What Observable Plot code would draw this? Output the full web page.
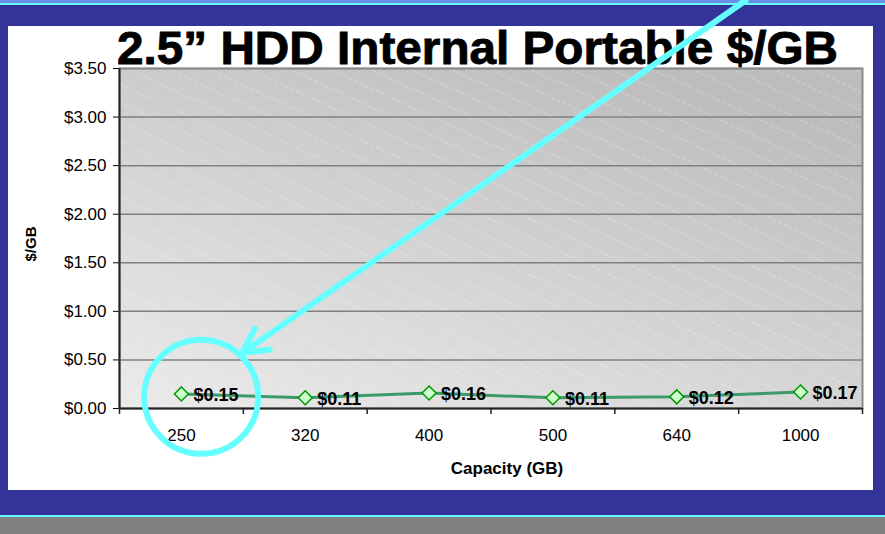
<!DOCTYPE html>
<html>
<head>
<meta charset="utf-8">
<script src="https://cdn.jsdelivr.net/npm/d3@7"></script>
<script src="https://cdn.jsdelivr.net/npm/@observablehq/plot@0.6"></script>
<style>
  html, body { margin: 0; padding: 0; background: #333399; }
  #page { position: relative; width: 885px; height: 534px; overflow: hidden; background: #333399; font-family: "Liberation Sans", Arial, sans-serif; }
  .band { position: absolute; left: 0; width: 885px; }
  #panel { position: absolute; left: 8px; top: 26px; width: 865px; height: 464px; background: #ffffff; }
  #title, #chart svg { position: absolute; left: 0; top: 0; }
</style>
</head>
<body>
<div id="page">
  <div class="band" style="top:0;height:3px;background:#6b8fe6"></div>
  <div class="band" style="top:3px;height:2px;background:#66ffff"></div>
  <div id="panel"></div>
  <div class="band" style="top:515px;height:2px;background:#66ffff"></div>
  <div class="band" style="top:517px;height:17px;background:#808080"></div>
  <svg id="title" width="885" height="534">
    <text x="117" y="64" font-family="Liberation Sans, Arial, sans-serif" font-weight="bold" font-size="47" textLength="721" lengthAdjust="spacingAndGlyphs" fill="#000" stroke="#000" stroke-width="0.9">2.5” HDD Internal Portable $/GB</text>
  </svg>
  <div id="chart"></div>
</div>
<script>
// ---- data ----
const capacities = ["250", "320", "400", "500", "640", "1000"];
const pricePerGB = [0.15, 0.11, 0.16, 0.11, 0.12, 0.17];
const yTicks = [0, 0.5, 1.0, 1.5, 2.0, 2.5, 3.0, 3.5];
const xTitle = "Capacity (GB)";
const yTitle = "$/GB";
// annotation (in data units): arrow pointing at the 250 GB point, and a ring around it
const arrowNote = [{x1: 4.555, y1: 4.2, x2: 0.49, y2: 0.57}];
const ringNote = [{x: 0.16, y: 0.12}];

const rows = capacities.map((c, i) => ({i, capacity: c, price: pricePerGB[i]}));
const money = d3.format("$.2f");
const boundaries = d3.range(capacities.length + 1).map(k => k - 0.5);

const chart = Plot.plot({
  width: 885,
  height: 534,
  marginTop: 68,
  marginRight: 23,
  marginBottom: 126,
  marginLeft: 119,
  style: {background: "transparent", fontFamily: "Liberation Sans, Arial, sans-serif", fontSize: "17px", color: "#000", overflow: "visible"},
  x: {domain: [-0.5, capacities.length - 0.5], ticks: d3.range(capacities.length), tickFormat: i => capacities[i], tickSize: 0, tickPadding: 20, label: null},
  y: {domain: [0, 3.5], ticks: yTicks, tickFormat: money, tickSize: 6, tickPadding: 7, label: null},
  marks: [
    Plot.frame({fill: "url(#plotBg)"}),
    Plot.frame({fill: "url(#plotHatch)"}),
    Plot.ruleY(yTicks.filter(v => v > 0), {stroke: "#808080", strokeWidth: 1.5}),
    Plot.frame({stroke: "#8a8a8a", strokeWidth: 2}),
    Plot.ruleX([boundaries[0]], {stroke: "#222", strokeWidth: 2}),
    Plot.ruleY([0], {stroke: "#222", strokeWidth: 2}),
    Plot.ruleX(boundaries, {y1: 0, y2: 0, insetTop: 6, stroke: "#222", strokeWidth: 1.5}),
    Plot.line(rows, {x: "i", y: "price", stroke: "#3a9a68", strokeWidth: 3}),
    Plot.dot(rows, {x: "i", y: "price", symbol: "diamond2", r: 6.3, fill: "#ccffcc", stroke: "#009900", strokeWidth: 1.5}),
    Plot.text(rows, {x: "i", y: "price", text: d => money(d.price), dx: 12, dy: 1, textAnchor: "start", fontWeight: "bold", fontSize: 18, fill: "#000"}),
    Plot.dot(ringNote, {x: "x", y: "y", r: 57, fill: "none", stroke: "#66ffff", strokeWidth: 6}),
    Plot.arrow(arrowNote, {x1: "x1", y1: "y1", x2: "x2", y2: "y2", stroke: "#66ffff", strokeWidth: 6, headLength: 7, headAngle: 55}),
    Plot.text([xTitle], {frameAnchor: "bottom", dx: 16, dy: 65, fontWeight: "bold", fontSize: 17, fill: "#000"}),
    Plot.text([yTitle], {frameAnchor: "left", dx: -88, dy: 23, rotate: -90, fontWeight: "bold", fontSize: 15, fill: "#000"})
  ]
});

d3.select(chart).insert("defs", ":first-child").html(`
  <linearGradient id="plotBg" x1="0" y1="1" x2="0.7" y2="0">
    <stop offset="0" stop-color="#ebebeb"/>
    <stop offset="1" stop-color="#bdbdbd"/>
  </linearGradient>
  <pattern id="plotHatch" patternUnits="userSpaceOnUse" width="60" height="17" patternTransform="rotate(25)">
    <line x1="0" y1="8" x2="60" y2="8" stroke="#ffffff" stroke-opacity="0.3" stroke-width="1" stroke-dasharray="4 2"/>
  </pattern>
`);
document.getElementById("chart").appendChild(chart);
</script>
</body>
</html>
